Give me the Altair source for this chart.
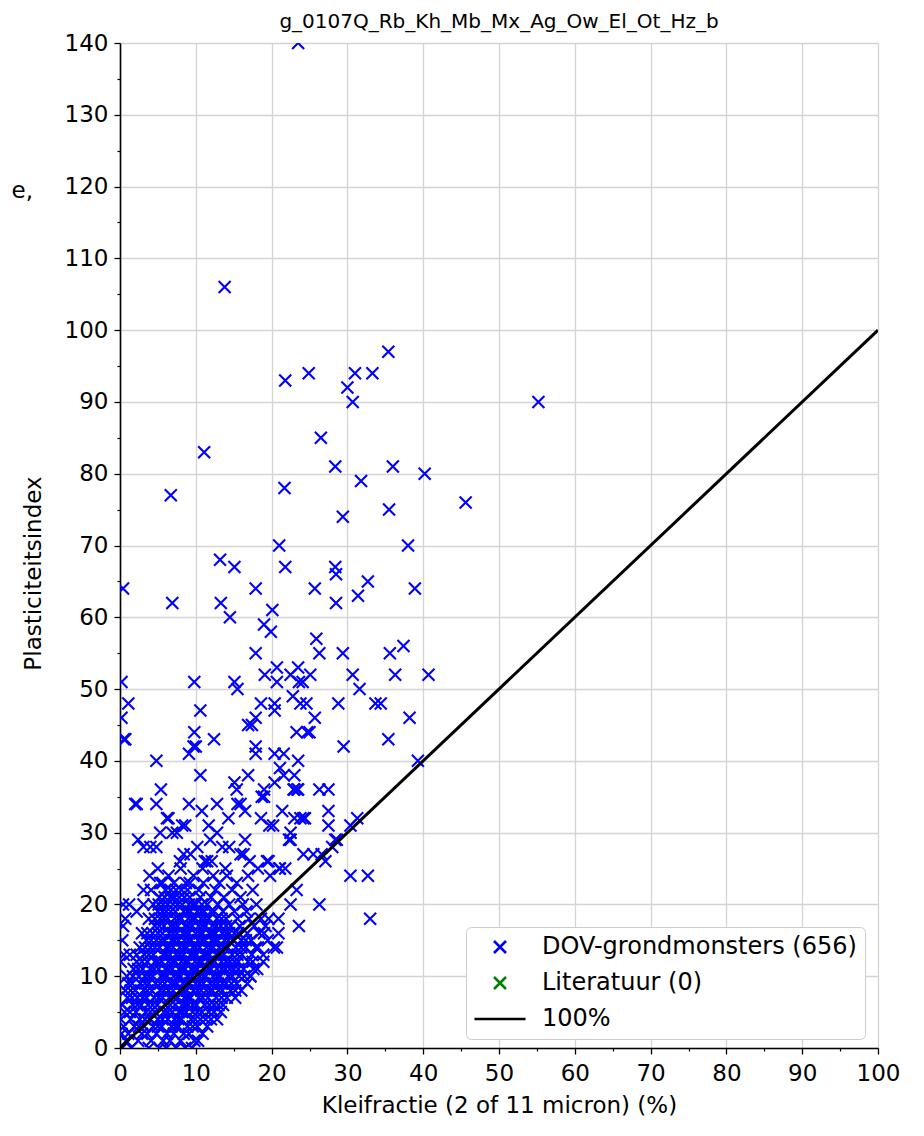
import altair as alt
import pandas as pd

# ---- data ----
# scattered samples (clay fraction %, plasticity index)
outlier_klei = [23.5, 13.8, 55.2, 21.8, 24.9, 31.0, 33.3, 35.4, 30.0, 30.7, 26.5, 11.1, 28.4, 36.0, 40.2,
                31.8, 21.7, 6.7, 45.6, 35.5, 29.4, 21.0, 38.0, 13.2, 15.1, 21.8, 28.4, 28.5, 32.7, 0.4,
                17.9, 25.7, 38.9, 6.9, 13.3, 28.5, 31.4, 14.5, 20.1, 19.0, 19.9, 25.9, 17.9, 26.3, 29.4,
                35.6, 37.4, 0.2, 9.8, 15.1, 15.5, 19.1, 20.7, 20.7, 22.5, 23.5, 23.6, 24.1, 25.1, 30.7,
                36.3, 40.7, 31.6, 1.1, 10.6, 18.6, 20.4, 20.4, 22.8, 23.8, 24.6, 28.8, 33.7, 34.4, 0.2,
                16.9, 17.4, 17.9, 25.7, 38.2, 0.7, 9.8, 12.4, 23.3, 25.0, 24.7, 29.5, 35.4, 10.0, 9.1,
                17.9, 17.9, 20.4, 21.6, 4.8, 23.5, 39.3, 10.6, 16.9, 15.1, 15.4, 21.1, 21.6, 20.4, 23.0,
                23.0, 23.5, 26.3, 27.5, 5.4, 19.0, 18.7, 2.2, 4.8, 9.1, 12.8, 15.9, 16.5, 10.8, 6.4,
                21.4, 27.5, 18.6, 14.3, 19.7, 20.2, 23.0, 23.8, 24.4, 24.2, 27.5, 30.4, 31.3, 7.5, 8.6,
                5.3, 11.7, 12.8, 11.9, 22.5, 22.5, 2.4, 3.1, 4.0, 4.8, 16.5, 28.6, 28.4, 28.0, 24.2,
                25.5, 26.6, 27.1, 21.8, 21.1, 30.4, 32.7, 23.3, 22.5, 26.3, 33.0, 23.6, 20.9, 20.9, 20.7,
                20.3, 17.2, 5.3, 3.1, 3.1, 0.4, 0.7, 2.2, 6.8, 9.2, 8.4, 9.3, 10.2, 11.5, 13.5,
                14.4, 15.9, 16.3, 19.6, 22.3, 6.9, 8.2, 6.2, 15.5, 19.0, 22.9, 23.4, 9.7, 0.5, 2.0]
outlier_pi = [140, 106, 90, 93, 94, 94, 94, 97, 92, 90, 85, 83, 81, 81, 80,
              79, 78, 77, 76, 75, 74, 70, 70, 68, 67, 67, 67, 66, 65, 64,
              64, 64, 64, 62, 62, 62, 63, 60, 61, 59, 58, 57, 55, 55, 55,
              55, 56, 51, 51, 51, 50, 52, 53, 51, 52, 53, 51, 51, 52, 52,
              52, 52, 50, 48, 47, 48, 48, 47, 49, 48, 48, 48, 48, 48, 46,
              45, 45, 46, 46, 46, 43, 44, 43, 44, 44, 44, 42, 43, 42, 41,
              42, 41, 41, 41, 40, 40, 40, 38, 38, 37, 36, 39, 38, 37, 38,
              36, 36, 36, 36, 36, 36, 35, 34, 34, 34, 34, 34, 33, 33, 32,
              33, 33, 32, 32, 31, 31, 32, 32, 32, 32, 31, 31, 32, 30, 31,
              30, 31, 30, 29, 30, 29, 29, 28, 28, 28, 29, 29, 29, 28, 27,
              27, 27, 26, 25, 25, 24, 24, 22, 20, 20, 18, 17, 18, 16, 14,
              14, 10, 23, 22, 20, 20, 18, 19, 21, 23, 27, 27, 28, 26, 28,
              28, 27, 27, 26, 29, 30, 31, 32, 34, 35, 36, 36, 42, 43, 34]

# dense cloud: plasticity index -> clay fractions observed on that row
cloud_rows = {
    0: [0.3, 1.5, 3.8, 5.2, 6.1, 7.4, 8.6, 9.5],
    1: [0.8, 2.4, 4.1, 5.7, 6.6, 8.0, 9.8, 10.3],
    2: [0.2, 1.1, 2.9, 3.6, 4.8, 6.2, 7.1, 8.4, 9.1, 10.9],
    3: [0.5, 1.9, 3.2, 4.4, 5.5, 6.8, 7.7, 8.9, 10.2, 11.5],
    4: [0.1, 1.4, 2.6, 3.9, 5.0, 6.3, 7.2, 8.1, 9.4, 10.6, 12.0, 12.8],
    5: [0.6, 2.1, 3.4, 4.6, 5.8, 6.9, 7.8, 8.7, 9.6, 10.8, 11.7, 13.3],
    6: [0.3, 1.7, 2.8, 3.7, 4.9, 6.0, 7.3, 8.2, 9.0, 10.1, 11.2, 12.4, 13.6],
    7: [1.0, 2.3, 3.5, 4.5, 5.6, 6.5, 7.6, 8.5, 9.3, 10.4, 11.6, 12.7, 14.1, 15.2],
    8: [0.7, 2.0, 3.1, 4.2, 5.3, 6.4, 7.0, 7.9, 8.8, 9.7, 10.7, 11.4, 12.2, 13.5, 14.6, 16.0],
    9: [1.6, 2.7, 3.8, 4.7, 5.9, 6.7, 7.5, 8.3, 9.2, 10.0, 11.0, 11.9, 12.9, 14.0, 15.4, 16.8],
    10: [0.9, 2.5, 3.3, 4.3, 5.4, 6.2, 7.1, 8.0, 8.9, 9.5, 10.5, 11.3, 12.3, 13.2, 14.3, 15.7, 17.2],
    11: [1.8, 3.0, 4.0, 5.1, 6.0, 6.9, 7.8, 8.6, 9.4, 10.2, 11.1, 12.0, 12.8, 13.9, 15.0, 16.3, 17.6, 18.1],
    12: [0.1, 2.2, 3.6, 4.6, 5.5, 6.4, 7.3, 8.1, 9.0, 9.9, 10.8, 11.6, 12.5, 13.4, 14.5, 15.6, 16.9, 18.9],
    13: [0.5, 1.3, 3.2, 4.4, 5.7, 6.6, 7.4, 8.4, 9.3, 10.1, 11.0, 11.8, 12.7, 13.7, 14.8, 16.1, 17.4, 18.9],
    14: [2.6, 4.0, 5.2, 6.1, 7.0, 7.9, 8.8, 9.6, 10.5, 11.4, 12.3, 13.1, 14.2, 15.3, 16.6, 17.9, 18.2],
    15: [0.3, 3.5, 4.8, 5.9, 6.8, 7.7, 8.5, 9.4, 10.3, 11.2, 12.1, 12.9, 13.8, 14.9, 16.0, 17.3, 19.5],
    16: [2.9, 4.3, 5.6, 6.5, 7.5, 8.3, 9.1, 10.0, 10.9, 11.8, 12.6, 13.5, 14.4, 15.6, 16.8, 18.4, 19.0],
    17: [0.4, 4.6, 5.8, 6.7, 7.6, 8.6, 9.5, 10.4, 11.3, 12.2, 13.3, 14.6, 15.8, 17.7, 19.2],
    18: [3.8, 5.3, 6.3, 7.2, 8.1, 9.0, 9.9, 10.7, 11.7, 12.8, 14.0, 15.5, 17.0, 18.6, 19.6],
    19: [5.0, 6.1, 7.3, 8.4, 9.3, 10.2, 11.1, 12.4, 13.6, 15.1, 16.7],
    20: [1.2, 4.4, 5.7, 7.0, 8.2, 9.1, 10.0, 11.5, 12.9, 14.4, 16.2, 18.0],
    21: [5.2, 6.6, 7.8, 9.2, 10.6, 12.0, 13.7, 15.9],
    22: [4.1, 6.0, 7.4, 8.9, 10.4, 12.6, 14.8, 17.5],
    23: [5.6, 7.1, 8.7, 11.0, 13.1, 15.4],
    24: [3.9, 6.4, 9.7, 12.3, 14.1, 16.9, 19.8],
    25: [5.0, 8.0, 10.9, 13.9, 18.2, 21.0],
    26: [7.9, 11.2, 12.1, 17.1, 19.4],
}
# further samples hidden inside the solid core of the cloud
core_rows = {
    3: [2.5, 5.0, 7.3, 9.6],
    4: [3.3, 5.6, 7.7, 9.9, 11.3],
    5: [1.3, 4.0, 6.3, 8.2, 10.2, 12.4],
    6: [2.3, 4.3, 6.6, 8.6, 9.6, 11.8, 13.0],
    7: [1.6, 3.0, 5.1, 7.1, 8.9, 10.9, 13.4],
    8: [1.4, 3.6, 5.8, 8.4, 10.2, 11.9, 13.0, 15.2],
    9: [1.1, 3.3, 5.3, 7.1, 8.7, 10.5, 12.4, 13.5, 14.7],
    10: [1.7, 3.8, 5.8, 7.6, 9.0, 11.0, 12.8, 14.8, 16.4],
    11: [2.4, 4.5, 6.4, 8.2, 9.8, 11.6, 13.4, 14.5, 15.6],
    12: [2.9, 5.0, 6.9, 8.6, 10.4, 12.0, 14.0, 15.1, 17.5],
    13: [2.2, 3.8, 6.1, 7.9, 9.7, 11.4, 13.2, 15.5],
    14: [3.3, 4.6, 6.5, 8.4, 10.0, 11.9, 13.6, 16.0],
    15: [4.1, 5.4, 7.2, 9.0, 10.8, 12.5, 14.3, 16.6],
    16: [3.6, 5.0, 7.0, 8.7, 10.5, 12.2, 14.0, 15.1],
    17: [5.2, 7.1, 9.0, 10.9, 12.7, 14.0],
    18: [4.6, 5.8, 7.7, 9.5, 11.2, 13.4],
    19: [5.6, 6.7, 8.9, 10.7, 12.0],
    20: [5.1, 6.3, 7.6, 9.6, 10.8],
    21: [5.9, 7.2, 8.5],
    22: [6.7, 8.1],
}

series_names = ["DOV-grondmonsters (656)", "Literatuur (0)", "100%"]
series_colors = ["#0000ff", "#008000", "#000000"]
ref_line_x = [0, 100]
ref_line_y = [0, 100]
x_ticks = list(range(0, 101, 10))
x_minor = list(range(5, 100, 10))
y_ticks = list(range(0, 141, 10))
y_minor = list(range(5, 140, 10))

# ---- tables ----
klei = list(outlier_klei)
pi = list(outlier_pi)
for rows in (cloud_rows, core_rows):
    for row_pi, row_x in rows.items():
        klei += row_x
        pi += [row_pi] * len(row_x)
pts = pd.DataFrame({"klei": klei, "pi": pi, "reeks": series_names[0]})
line_df = pd.DataFrame({"x": ref_line_x, "y": ref_line_y})

FONT = "DejaVu Sans"
XPATH = "M-1.2,-1.2L1.2,1.2M-1.2,1.2L1.2,-1.2"
LPATH = "M-5.1,0L5.1,0"

xs = alt.Scale(domain=[0, 100], nice=False, zero=False)
ys = alt.Scale(domain=[0, 140], nice=False, zero=False)

x_axis = alt.Axis(values=x_ticks, grid=True, gridColor="#d4d4d4", gridWidth=1.3, orient="bottom",
                  title="Kleifractie (2 of 11 micron) (%)", titleFontSize=23,
                  titleFontWeight="normal", titleColor="black", titleFont=FONT,
                  titleX=379, titleY=57, titleBaseline="middle",
                  labelFontSize=23, labelFont=FONT, labelColor="black", labelPadding=8,
                  tickSize=6, tickColor="black", tickWidth=1.3,
                  domainColor="black", domainWidth=1.6, labelFlush=False)
y_axis = alt.Axis(values=y_ticks, grid=True, gridColor="#d4d4d4", gridWidth=1.3, orient="left",
                  title="Plasticiteitsindex", titleFontSize=23, titleFontWeight="normal",
                  titleColor="black", titleFont=FONT, titleX=-87, titleY=530,
                  titleBaseline="middle", titleAlign="center", titleAngle=270,
                  labelFontSize=23, labelFont=FONT, labelColor="black", labelPadding=6,
                  tickSize=6, tickColor="black", tickWidth=1.3,
                  domainColor="black", domainWidth=1.6, labelFlush=False)

legend = alt.Legend(title=None, orient="none", legendX=346, legendY=884,
                    fillColor="white", strokeColor="#cccccc", cornerRadius=5, padding=8,
                    labelFontSize=24, labelFont=FONT, labelColor="black", labelLimit=500,
                    symbolSize=100, symbolStrokeWidth=2.6, symbolOffset=14, labelOffset=30,
                    rowPadding=12, symbolFillColor="transparent")

points = alt.Chart(pts).mark_point(filled=False, size=100, strokeWidth=2.1, opacity=1, clip=True).encode(
    x=alt.X("klei:Q", scale=xs, axis=x_axis),
    y=alt.Y("pi:Q", scale=ys, axis=y_axis),
    color=alt.Color("reeks:N", scale=alt.Scale(domain=series_names, range=series_colors), legend=legend),
    shape=alt.Shape("reeks:N", scale=alt.Scale(domain=series_names, range=[XPATH, XPATH, LPATH]), legend=legend),
)

ref_line = alt.Chart(line_df).mark_line(color="black", strokeWidth=3, clip=True).encode(
    x=alt.X("x:Q", scale=xs, axis=None),
    y=alt.Y("y:Q", scale=ys, axis=None),
)

minor = alt.Chart(line_df).mark_line(opacity=0).encode(
    x=alt.X("x:Q", scale=xs, axis=alt.Axis(values=x_minor, labels=False, grid=False, tickSize=3,
                                          tickColor="black", tickWidth=1.2, domain=False,
                                          orient="bottom", title=None)),
    y=alt.Y("y:Q", scale=ys, axis=alt.Axis(values=y_minor, labels=False, grid=False, tickSize=3,
                                          tickColor="black", tickWidth=1.2, domain=False,
                                          orient="left", title=None)),
)

cut_text = alt.Chart(line_df).mark_text(text="e,", align="right", baseline="middle",
                                        fontSize=23, font=FONT, color="black").encode(
    x=alt.value(-87), y=alt.value(148)
).transform_filter("datum.x == 0")

chart = alt.layer(points, ref_line, minor, cut_text).resolve_axis(
    x="independent", y="independent"
).properties(
    width=758, height=1005,
    title=alt.TitleParams("g_0107Q_Rb_Kh_Mb_Mx_Ag_Ow_El_Ot_Hz_b", fontSize=20, font=FONT,
                          fontWeight="normal", color="black", anchor="middle", offset=0),
    autosize=alt.AutoSizeParams(type="none"),
    padding={"left": 112, "top": 35, "right": 38, "bottom": 80},
).configure_view(stroke="black", strokeWidth=1.6).configure(font=FONT)

chart.save("out.html", embed_options={"renderer": "svg", "actions": False})
